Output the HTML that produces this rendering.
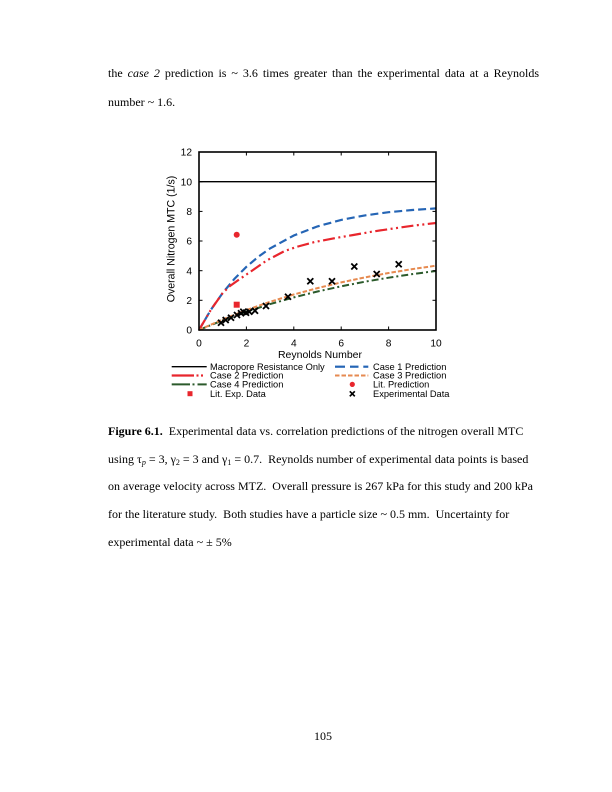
<!DOCTYPE html>
<html>
<head>
<meta charset="utf-8">
<style>
  html, body { margin:0; padding:0; background:#ffffff; }
  body { width:612px; height:792px; position:relative; overflow:hidden; }
  .t { position:absolute; font-family:"Liberation Serif", "Times New Roman", serif; font-size:12px; line-height:12px; color:#000; white-space:pre; }
  .just { text-align:justify; text-align-last:justify; white-space:normal; }
  svg { position:absolute; left:0; top:0; }
  sub { font-size:8px; line-height:0; vertical-align:-2px; }
</style>
</head>
<body>

<div class="t just" style="left:108px; top:67px; width:431px;">the <i>case 2</i> prediction is ~ 3.6 times greater than the experimental data at a Reynolds</div>
<div class="t" style="left:108px; top:96px;">number ~ 1.6.</div>

<svg width="612" height="792" viewBox="0 0 612 792" xmlns="http://www.w3.org/2000/svg">
  <!-- macropore line y=10 -->
  <line x1="199" y1="181.7" x2="436" y2="181.7" stroke="#000" stroke-width="1.3"/>

  <!-- Case 1 blue -->
  <polyline fill="none" stroke="#2565b5" stroke-width="2.2" stroke-dasharray="8 4"
    points="199,330 210.85,309.8 222.7,292.9 234.55,278.7 246.4,266.8 258.25,256.8 270.1,248.4 293.8,235.5 317.5,226.4 341.2,219.9 364.9,215.4 388.6,212.2 412.3,210.0 436,208.4"/>
  <!-- Case 2 red -->
  <polyline fill="none" stroke="#e8262d" stroke-width="2.2" stroke-dasharray="12 3.5 2 3.5 2 3.5"
    points="199,330 210.85,309.8 222.7,293 230,286 237,281 245,275.5 253,270 266.7,260.5 284.7,251 298,246.5 314.7,242 334,238.3 353.3,235 373,231.5 393.3,228.5 413,225.7 436,223"/>
  <!-- Case 4 green -->
  <polyline fill="none" stroke="#2b5a2b" stroke-width="2" stroke-dasharray="7 3 2 3"
    points="199,330 222.7,320.3 246.4,311.7 270.1,304.1 293.8,297.4 317.5,291.5 341.2,286.3 364.9,281.7 388.6,277.7 412.3,274.1 436,271.0"/>
  <!-- Case 3 orange -->
  <polyline fill="none" stroke="#e68a50" stroke-width="2" stroke-dasharray="4.5 2"
    points="199,330 222.7,319.4 246.4,310.05 270.1,301.8 293.8,294.5 317.5,288.1 341.2,282.4 364.9,277.4 388.6,273.0 412.3,269.1 436,265.7"/>

  <!-- Lit prediction & lit exp data -->
  <circle cx="236.7" cy="234.7" r="3" fill="#e8262d"/>
  <rect x="233.7" y="301.7" width="6" height="6" fill="#e8262d"/>

  <!-- Experimental X markers -->
  <g stroke="#000" stroke-width="1.8" fill="none">
    <path d="M218,319.7 l6,6 m0,-6 l-6,6"/>
    <path d="M222.7,317 l6,6 m0,-6 l-6,6"/>
    <path d="M228,314.7 l6,6 m0,-6 l-6,6"/>
    <path d="M234,312 l6,6 m0,-6 l-6,6"/>
    <path d="M238,310.3 l6,6 m0,-6 l-6,6"/>
    <path d="M240.3,308.7 l6,6 m0,-6 l-6,6"/>
    <path d="M243,309.7 l6,6 m0,-6 l-6,6"/>
    <path d="M246.3,308.7 l6,6 m0,-6 l-6,6"/>
    <path d="M252,307.7 l6,6 m0,-6 l-6,6"/>
    <path d="M263,303 l6,6 m0,-6 l-6,6"/>
    <path d="M285,293.7 l6,6 m0,-6 l-6,6"/>
    <path d="M307.3,278.3 l6,6 m0,-6 l-6,6"/>
    <path d="M329,278.3 l6,6 m0,-6 l-6,6"/>
    <path d="M351.3,263.5 l6,6 m0,-6 l-6,6"/>
    <path d="M373.7,271 l6,6 m0,-6 l-6,6"/>
    <path d="M395.7,261.3 l6,6 m0,-6 l-6,6"/>
  </g>

  <!-- Frame -->
  <rect x="199" y="152" width="237" height="178" fill="none" stroke="#000" stroke-width="1.6"/>
  <!-- ticks -->
  <g stroke="#000" stroke-width="1">
    <line x1="246.4" y1="330" x2="246.4" y2="326.5"/><line x1="293.8" y1="330" x2="293.8" y2="326.5"/>
    <line x1="341.2" y1="330" x2="341.2" y2="326.5"/><line x1="388.6" y1="330" x2="388.6" y2="326.5"/>
    <line x1="246.4" y1="152" x2="246.4" y2="155.5"/><line x1="293.8" y1="152" x2="293.8" y2="155.5"/>
    <line x1="341.2" y1="152" x2="341.2" y2="155.5"/><line x1="388.6" y1="152" x2="388.6" y2="155.5"/>
    <line x1="199" y1="300.3" x2="202.5" y2="300.3"/><line x1="199" y1="270.7" x2="202.5" y2="270.7"/>
    <line x1="199" y1="241" x2="202.5" y2="241"/><line x1="199" y1="211.4" x2="202.5" y2="211.4"/>
    <line x1="199" y1="181.7" x2="202.5" y2="181.7"/>
    <line x1="436" y1="300.3" x2="432.5" y2="300.3"/><line x1="436" y1="270.7" x2="432.5" y2="270.7"/>
    <line x1="436" y1="241" x2="432.5" y2="241"/><line x1="436" y1="211.4" x2="432.5" y2="211.4"/>
  </g>

  <!-- tick labels -->
  <g font-family="Liberation Sans, Arial, sans-serif" font-size="10.2" fill="#000">
    <g text-anchor="end">
      <text x="192" y="333.6">0</text>
      <text x="192" y="303.9">2</text>
      <text x="192" y="274.3">4</text>
      <text x="192" y="244.6">6</text>
      <text x="192" y="215">8</text>
      <text x="192" y="185.3">10</text>
      <text x="192" y="155.6">12</text>
    </g>
    <g text-anchor="middle">
      <text x="199" y="346.3">0</text>
      <text x="246.4" y="346.3">2</text>
      <text x="293.8" y="346.3">4</text>
      <text x="341.2" y="346.3">6</text>
      <text x="388.6" y="346.3">8</text>
      <text x="436" y="346.3">10</text>
      <text x="320" y="357.8" font-size="10.5">Reynolds  Number</text>
    </g>
    <text transform="translate(174.5,239) rotate(-90)" text-anchor="middle" font-size="10.6">Overall  Nitrogen  MTC  (1/s)</text>
  </g>

  <!-- Legend -->
  <g font-family="Liberation Sans, Arial, sans-serif" font-size="9.3" fill="#000">
    <text x="210" y="369.9">Macropore Resistance Only</text>
    <text x="210" y="378.7">Case 2 Prediction</text>
    <text x="210" y="387.6">Case 4 Prediction</text>
    <text x="210" y="396.9">Lit. Exp. Data</text>
    <text x="373" y="369.9">Case 1 Prediction</text>
    <text x="373" y="378.7">Case 3 Prediction</text>
    <text x="373" y="387.6">Lit. Prediction</text>
    <text x="373" y="396.9">Experimental Data</text>
  </g>
  <line x1="171.7" y1="366.7" x2="206.7" y2="366.7" stroke="#000" stroke-width="1.3"/>
  <!-- red legend -->
  <line x1="171.7" y1="375.5" x2="194" y2="375.5" stroke="#e8262d" stroke-width="2.2"/>
  <line x1="196.5" y1="375.5" x2="198.5" y2="375.5" stroke="#e8262d" stroke-width="2.2"/>
  <line x1="201" y1="375.5" x2="203" y2="375.5" stroke="#e8262d" stroke-width="2.2"/>
  <!-- green legend -->
  <line x1="171.7" y1="384.4" x2="190" y2="384.4" stroke="#2b5a2b" stroke-width="2"/>
  <line x1="192.5" y1="384.4" x2="194.5" y2="384.4" stroke="#2b5a2b" stroke-width="2"/>
  <line x1="197.5" y1="384.4" x2="206.7" y2="384.4" stroke="#2b5a2b" stroke-width="2"/>
  <!-- red square legend -->
  <rect x="187.5" y="391.2" width="5" height="5" fill="#e8262d"/>
  <!-- blue legend -->
  <line x1="335" y1="366.7" x2="345" y2="366.7" stroke="#2565b5" stroke-width="2.2"/>
  <line x1="350" y1="366.7" x2="358.5" y2="366.7" stroke="#2565b5" stroke-width="2.2"/>
  <line x1="363.3" y1="366.7" x2="368.3" y2="366.7" stroke="#2565b5" stroke-width="2.2"/>
  <!-- orange legend -->
  <line x1="335" y1="375.5" x2="368.3" y2="375.5" stroke="#e68a50" stroke-width="2" stroke-dasharray="4.5 2"/>
  <!-- lit prediction circle -->
  <circle cx="352.3" cy="384.4" r="2.6" fill="#e8262d"/>
  <!-- X legend -->
  <path d="M349.8,391.3 l5,5 m0,-5 l-5,5" stroke="#000" stroke-width="1.7" fill="none"/>
</svg>

<div class="t" style="left:108px; top:425px;"><b>Figure 6.1.</b>  Experimental data vs. correlation predictions of the nitrogen overall MTC</div>
<div class="t" style="left:108px; top:452.7px;">using τ<sub><i>p</i></sub> = 3, γ<sub>2</sub> = 3 and γ<sub>1</sub> = 0.7.  Reynolds number of experimental data points is based</div>
<div class="t" style="left:108px; top:480.4px;">on average velocity across MTZ.  Overall pressure is 267 kPa for this study and 200 kPa</div>
<div class="t" style="left:108px; top:508px;">for the literature study.  Both studies have a particle size ~ 0.5 mm.  Uncertainty for</div>
<div class="t" style="left:108px; top:535.7px;">experimental data ~ ± 5%</div>

<div class="t" style="left:314px; top:730px;">105</div>

</body>
</html>
